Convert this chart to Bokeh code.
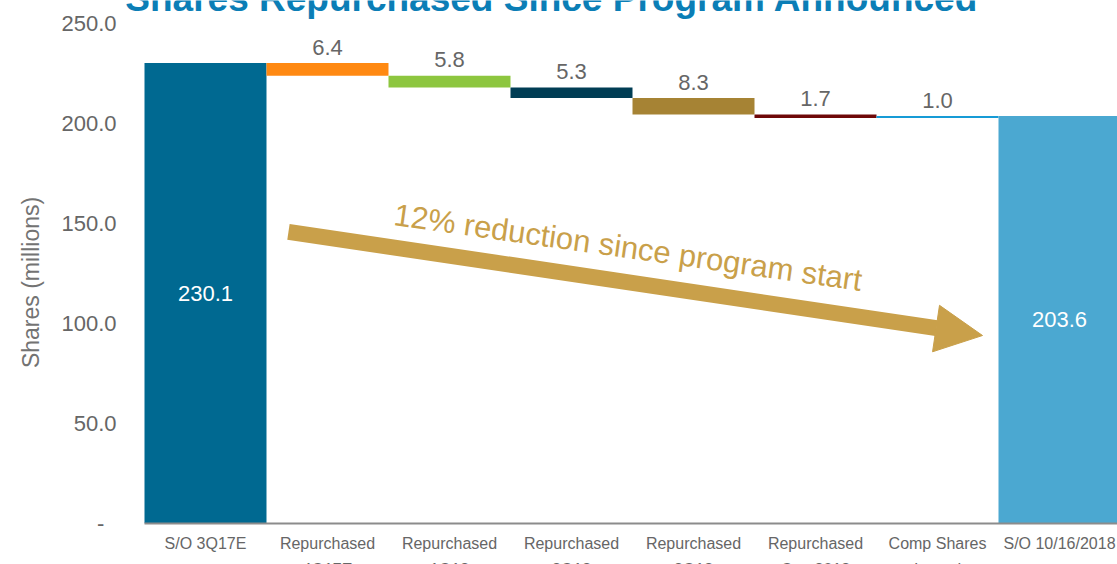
from bokeh.plotting import figure
from bokeh.models import Range1d, FixedTicker, ColumnDataSource, Arrow, NormalHead
from bokeh.core.properties import value
from bokeh.embed import file_html
from bokeh.resources import INLINE

# ---------------- data ----------------
title_text = "Shares Repurchased Since Program Announced"
categories = ["S/O 3Q17E", "Repurchased\n4Q17E", "Repurchased\n1Q18", "Repurchased\n2Q18",
              "Repurchased\n3Q18", "Repurchased\nOct. 2018", "Comp Shares\nIssued", "S/O 10/16/2018"]
start_value = 230.1
changes = [-6.4, -5.8, -5.3, -8.3, -1.7, 1.0]
end_value = 203.6
y_ticks = [0, 50, 100, 150, 200, 250]
y_tick_labels = ["-\u00a0\u00a0", "50.0", "100.0", "150.0", "200.0", "250.0"]
bar_colors = ["#006991", "#FF8912", "#8DC63F", "#003D54", "#A68334", "#6E0808", "#169BD6", "#4BA8D1"]
annotation_text = "12% reduction since program start"
y_axis_title = "Shares (millions)"

FONT = value("Liberation Sans")
GRAY = "#666666"
GOLD = "#C9A04A"

# ---------------- waterfall geometry from data ----------------
xs = [i + 0.5 for i in range(len(categories))]
bottoms, tops = [0.0], [start_value]
level = start_value
for c in changes:
    new = level + c
    bottoms.append(min(level, new))
    tops.append(max(level, new))
    level = new
bottoms.append(0.0)
tops.append(end_value)

src = ColumnDataSource(dict(x=xs, bottom=bottoms, top=tops, color=bar_colors))

step_src = ColumnDataSource(dict(
    x=xs[1:-1], y=tops[1:-1], label=["%.1f" % abs(c) for c in changes]))
total_src = ColumnDataSource(dict(
    x=[xs[0], xs[-1]], y=[start_value / 2, end_value / 2],
    label=["%.1f" % start_value, "%.1f" % end_value]))

# ---------------- figure ----------------
p = figure(width=1117, height=564, output_backend="svg", toolbar_location=None,
           x_range=Range1d(-0.2131, 7.9754), y_range=Range1d(-20.65, 261.35))
p.min_border_left = 118
p.min_border_right = 0
p.min_border_top = 0
p.min_border_bottom = 0
p.outline_line_color = None
p.background_fill_color = "white"
p.border_fill_color = "white"
p.xgrid.visible = False
p.ygrid.visible = False

p.vbar(x="x", bottom="bottom", top="top", width=1.0, fill_color="color",
       line_color=None, source=src)

p.text(x="x", y="y", text="label", source=step_src, text_align="center",
       text_baseline="middle", y_offset=-16, text_font=FONT,
       text_font_size="22px", text_color=GRAY)
p.text(x="x", y="y", text="label", source=total_src, text_align="center",
       text_baseline="middle", text_font=FONT, text_font_size="22px",
       text_color="white")

# title (partially cut off at the top, as in the reference)
p.text(x=[3.340], y=[252.2], text=[title_text], text_align="center",
       text_baseline="bottom", text_font=FONT, text_font_size="37px",
       text_font_style="bold", text_color="#0B7EB6")

# arrow annotation
p.add_layout(Arrow(end=None, x_start=1.180, y_start=145.7, x_end=6.492, y_end=97.5,
                   line_color=GOLD, line_width=16))
p.add_layout(Arrow(end=NormalHead(size=47, fill_color=GOLD, line_color=GOLD, line_width=1),
                   x_start=1.180, y_start=145.7, x_end=6.869, y_end=93.85,
                   line_alpha=0, line_width=1))
p.text(x=[3.963], y=[137.85], text=[annotation_text], angle=-0.14,
       text_align="center", text_baseline="middle", text_font=FONT,
       text_font_size="31px", text_color=GOLD)

# y axis
yax = p.yaxis[0]
yax.ticker = FixedTicker(ticks=y_ticks)
yax.major_label_overrides = {t: l for t, l in zip(y_ticks, y_tick_labels)}
yax.axis_line_color = None
yax.major_tick_line_color = None
yax.minor_tick_line_color = None
yax.major_tick_out = 0
yax.major_tick_in = 0
yax.major_label_standoff = 2
yax.major_label_text_font = "Liberation Sans"
yax.major_label_text_font_size = "22px"
yax.major_label_text_color = GRAY
yax.axis_label = y_axis_title
yax.axis_label_text_font = "Liberation Sans"
yax.axis_label_text_font_size = "23px"
yax.axis_label_text_font_style = "normal"
yax.axis_label_text_color = "#737373"
yax.axis_label_standoff = 14

# x axis (drawn at y = 0)
xax = p.xaxis[0]
xax.fixed_location = 0
xax.bounds = (0, 8)
xax.ticker = FixedTicker(ticks=xs)
xax.major_label_overrides = {x: c for x, c in zip(xs, categories)}
xax.axis_line_color = "#8C8C8C"
xax.axis_line_width = 2
xax.major_tick_line_color = None
xax.minor_tick_line_color = None
xax.major_tick_out = 0
xax.major_tick_in = 0
xax.major_label_standoff = 12
xax.major_label_text_font = "Liberation Sans"
xax.major_label_text_font_size = "16px"
xax.major_label_text_color = GRAY
xax.major_label_text_line_height = 1.5

open("out.html", "w").write(file_html(p, INLINE))
